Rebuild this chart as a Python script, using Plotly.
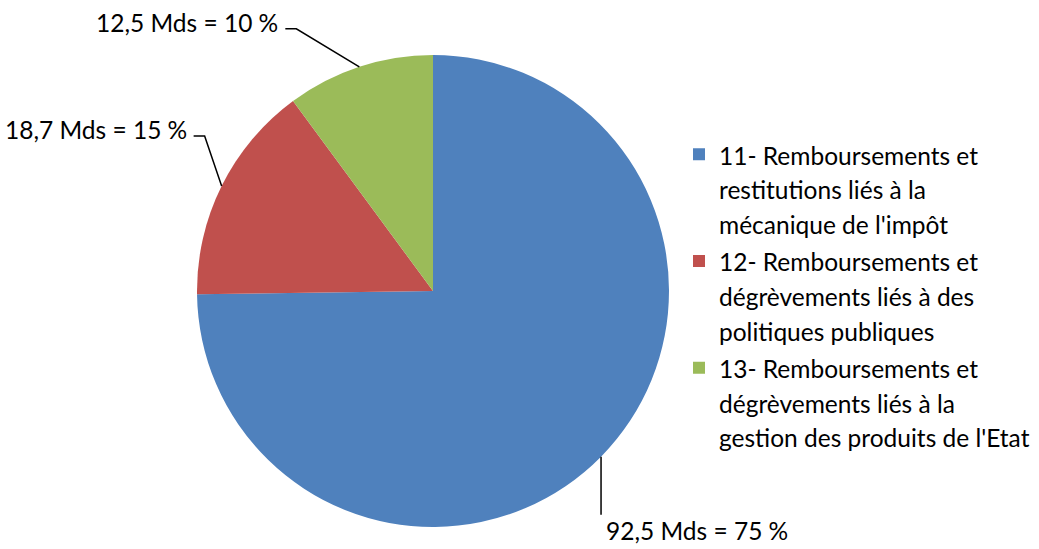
import math
import plotly.graph_objects as go

# ---- data ----
legend_labels = [
    "11- Remboursements et<br>restitutions liés à la<br>mécanique de l'impôt",
    "12- Remboursements et<br>dégrèvements liés à des<br>politiques publiques",
    "13- Remboursements et<br>dégrèvements liés à la<br>gestion des produits de l'Etat",
]
values = [92.5, 18.7, 12.5]          # milliards d'euros
colors = ["#4F81BD", "#C0504D", "#9BBB59"]

# ---- layout geometry (pixels) ----
W, H = 1039, 549
CX, CY, R = 433, 291, 236
FONT = "Lato, Carlito, 'Liberation Sans', sans-serif"
FS = 24.5
LEGEND_LINE_FS = 26.6   # sets the legend line spacing (1.3 em)

# leader-line layout for each slice
leader = [
    dict(elbow=(0, 58), end=(0, 0), side="left", text=(3, 16)),
    dict(elbow=(-17, -50), end=(-11, 0), side="right", text=(-5, -7)),
    dict(elbow=(-63, -38), end=(-11, 0), side="right", text=(-5, -6)),
]


def px(x, y):
    return x / W, 1 - y / H


total = sum(values)
fig = go.Figure(
    go.Pie(
        labels=[f'<span style="font-size:{FS}px">{l}</span>' for l in legend_labels],
        values=values,
        marker=dict(colors=colors, line=dict(width=0)),
        sort=False,
        direction="clockwise",
        rotation=0,
        textinfo="none",
        hoverinfo="value+percent",
        domain=dict(x=[(CX - R) / W, (CX + R) / W], y=[1 - (CY + R) / H, 1 - (CY - R) / H]),
    )
)

shapes, annotations = [], []
cum = 0
for v, lay in zip(values, leader):
    mid = (cum + v / 2) / total
    cum += v
    ang = math.radians(90 - 360 * mid)
    ex, ey = CX + R * math.cos(ang), CY - R * math.sin(ang)
    bx, by = ex + lay["elbow"][0], ey + lay["elbow"][1]
    fx, fy = bx + lay["end"][0], by + lay["end"][1]
    p = [px(ex, ey), px(bx, by), px(fx, fy)]
    shapes.append(dict(
        type="path", xref="paper", yref="paper",
        path="M {:.5f},{:.5f} L {:.5f},{:.5f} L {:.5f},{:.5f}".format(*p[0], *p[1], *p[2]),
        line=dict(color="black", width=1.5),
    ))
    pct = round(100 * v / total)
    txt = f"{v:.1f}".replace(".", ",") + f" Mds = {pct} %"
    tx, ty = px(fx + lay["text"][0], fy + lay["text"][1])
    annotations.append(dict(
        x=tx, y=ty, xref="paper", yref="paper", text=txt, showarrow=False,
        xanchor=lay["side"], yanchor="middle",
        font=dict(family=FONT, size=FS, color="black"),
    ))

fig.update_layout(
    width=W, height=H,
    margin=dict(l=0, r=0, t=0, b=0),
    paper_bgcolor="white",
    plot_bgcolor="white",
    showlegend=True,
    legend=dict(
        x=679 / W, y=1 - 296 / H, xanchor="left", yanchor="middle",
        font=dict(family=FONT, size=LEGEND_LINE_FS, color="black"),
        itemwidth=30,
        valign="top",
        bgcolor="rgba(0,0,0,0)",
    ),
    shapes=shapes,
    annotations=annotations,
)

fig.write_html("out.html", config={"displayModeBar": False},
               post_script="document.body.style.margin='0';")
